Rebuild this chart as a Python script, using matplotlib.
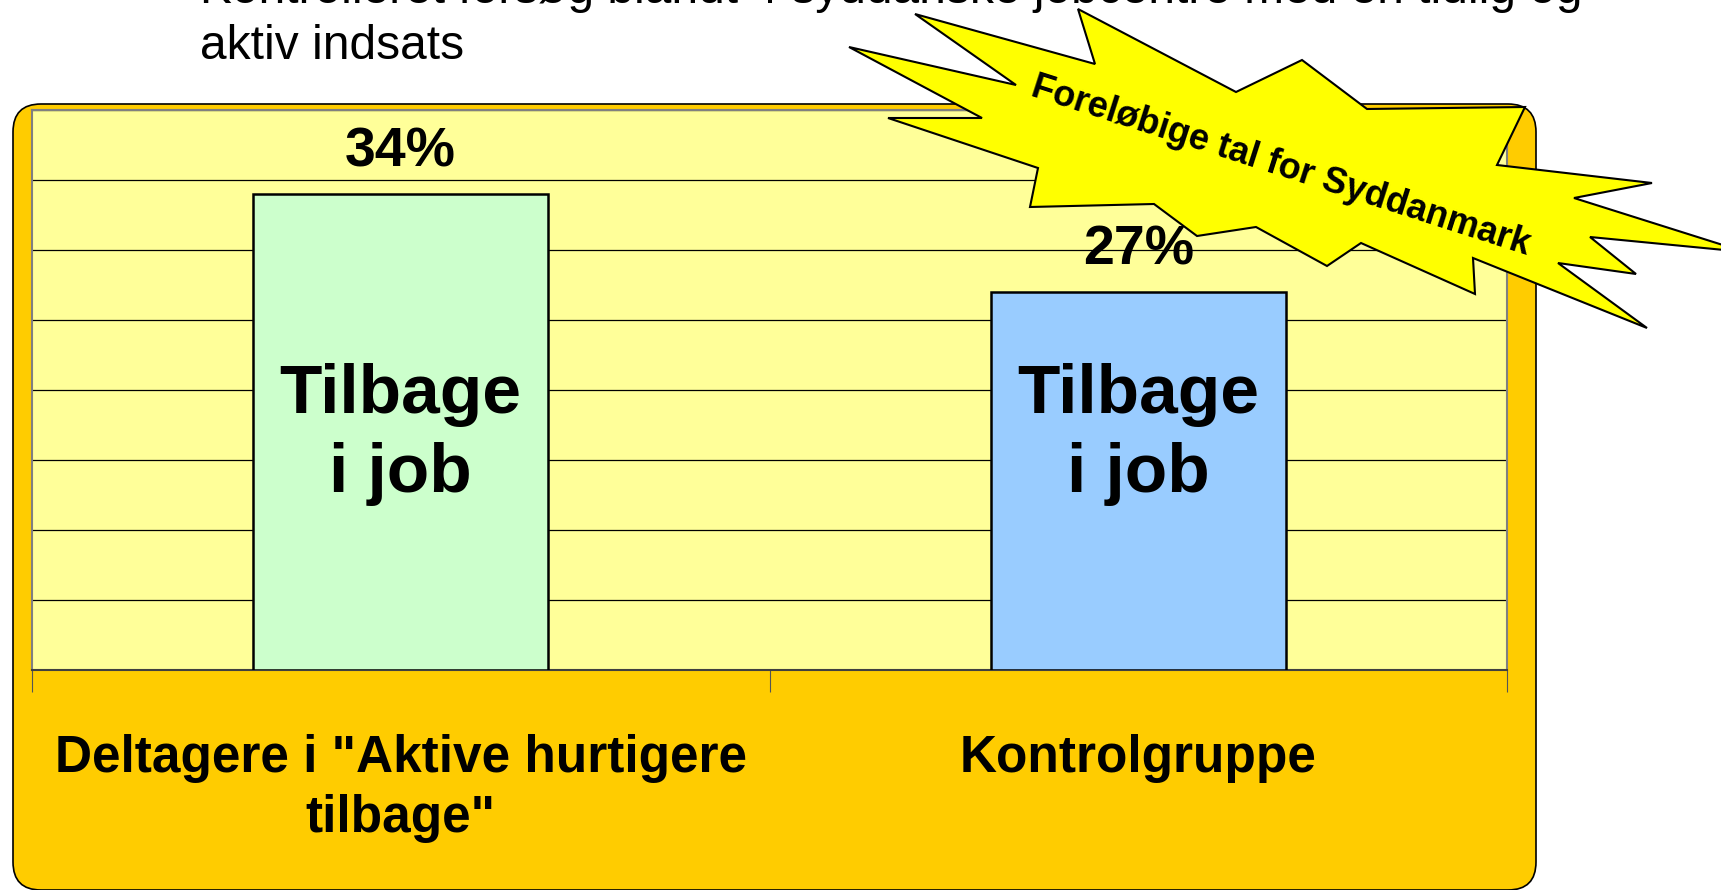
import matplotlib
matplotlib.use("Agg")
import matplotlib.pyplot as plt
from matplotlib.patches import FancyBboxPatch, Polygon
from matplotlib.transforms import Affine2D

plt.rcParams["font.family"] = ["Liberation Sans", "DejaVu Sans"]

# ── data ─────────────────────────────────────────────────────────────
categories = ['Deltagere i "Aktive hurtigere\ntilbage"', "Kontrolgruppe"]
values     = [34, 27]
bar_label  = "Tilbage\ni job"
title      = "Kontrolleret forsøg blandt 4 syddanske jobcentre med en tidlig og\naktiv indsats"
burst_text = "Foreløbige tal for Syddanmark"

# starburst outline, pixels from the top-left corner of the slide
burst_px = [
    (849, 47), (1016, 85), (915, 14), (1095, 64), (1078, 9), (1236, 92),
    (1302, 60), (1367, 109), (1525, 107), (1497, 165), (1652, 183),
    (1574, 198), (1745, 252), (1590, 237), (1636, 274), (1558, 263),
    (1647, 328), (1473, 258), (1475, 294), (1361, 243), (1327, 266),
    (1256, 227), (1197, 236), (1154, 204), (1030, 207), (1038, 168),
    (888, 118), (982, 118),
]

W, H = 1721, 890
bar_colors = ["#CCFFCC", "#99CCFF"]

fig = plt.figure(figsize=(W / 100, H / 100), dpi=100, facecolor="white")
px = Affine2D().scale(1 / W, -1 / H).translate(0, 1) + fig.transFigure

# orange rounded frame behind the chart
frame = FancyBboxPatch((13, 104), 1523, 786,
                       boxstyle="round,pad=0,rounding_size=28",
                       facecolor="#FFCC00", edgecolor="black", linewidth=1.2,
                       transform=px, zorder=-2)
fig.patches.append(frame)

ax = fig.add_axes([32 / W, 1 - 670 / H, 1475 / W, 560 / H])
ax.set_facecolor("#FFFF99")
ax.set_xlim(-0.5, 1.5)
ax.set_ylim(0, 40)

x = list(range(len(values)))
bars = ax.bar(x, values, width=0.4, color=bar_colors,
              edgecolor="black", linewidth=1.8, zorder=3)

for rect, v in zip(bars, values):
    cx = rect.get_x() + rect.get_width() / 2
    ax.annotate(f"{v}%", (cx, v), xytext=(0, 20), textcoords="offset points",
                ha="center", va="baseline", fontsize=40, fontweight="bold")
    ax.text(cx, 16.8, bar_label, ha="center", va="center", fontsize=50,
            fontweight="bold", linespacing=1.3, zorder=4)

ax.set_yticks(range(0, 41, 5))
ax.set_yticklabels([])
ax.yaxis.grid(True, color="black", linewidth=0.9)
ax.set_axisbelow(True)
ax.tick_params(axis="y", length=0)

ax.set_xticks(x)
ax.set_xticklabels(categories, fontsize=37, fontweight="bold", linespacing=1.3)
ax.set_xticks([-0.5, 0.5, 1.5], minor=True)
ax.tick_params(axis="x", which="major", length=0, pad=46)
ax.tick_params(axis="x", which="minor", length=16, width=0.8, color="#555555")

for side in ("left", "top", "right"):
    ax.spines[side].set_color("#808080")
    ax.spines[side].set_linewidth(1.5)
ax.spines["bottom"].set_color("#404040")
ax.spines["bottom"].set_linewidth(1.5)

fig.text(200 / W, 1 - 59 / H, title, ha="left", va="baseline",
         fontsize=34.5, linespacing=1.32)

# starburst callout on top of everything
burst = Polygon(burst_px, closed=True, facecolor="#FFFF00", edgecolor="black",
                linewidth=1.5, transform=px, zorder=10)
fig.patches.append(burst)
fig.text(1281 / W, 1 - 166 / H, burst_text, ha="center", va="center",
         rotation=-17.8, rotation_mode="anchor", fontsize=26,
         fontweight="bold", zorder=11)

fig.savefig("out.png", dpi=100, facecolor="white")
